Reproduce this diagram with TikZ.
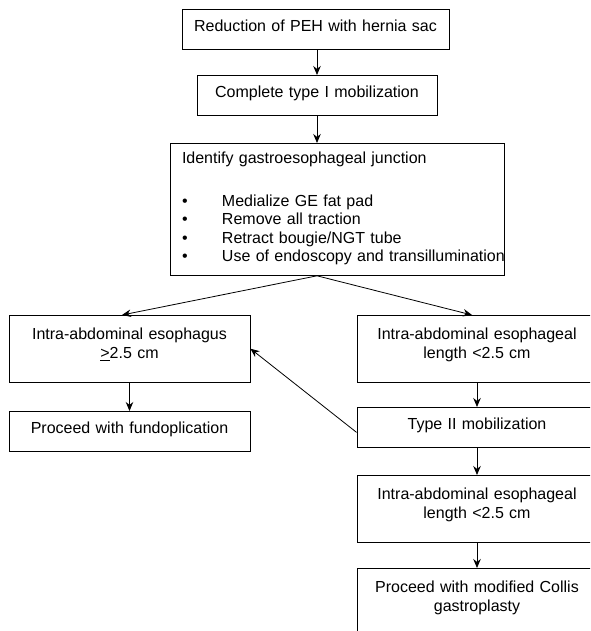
\documentclass[tikz,border=0pt]{standalone}
\usepackage{fontspec}
\setmainfont{Liberation Sans}
\usepackage{tikz}
\usetikzlibrary{arrows.meta, calc}

\begin{document}
\begin{tikzpicture}[x=1pt, y=-1pt,
  stepbox/.style={draw, line width=0.8pt, anchor=north, align=center,
    inner xsep=0pt, inner ysep=0pt, font=\fontsize{16pt}{18.5pt}\selectfont,
    text height=22pt, text depth=18pt},
  tallbox/.style={stepbox, text height=24.5pt, text depth=42pt},
  flow/.style={line width=0.8pt, -{Stealth[length=9pt, width=7.5pt]}}]
  \useasboundingbox (0,0) rectangle (590,631);
  \clip (0,0) rectangle (590,631);

  % Common steps
  \node[stepbox, text width=267pt] (reduce) at (315.5, 9) {Reduction of PEH with hernia sac};
  \node[stepbox, text width=240pt] (typeone) at (317, 75) {Complete type I mobilization};
  \node[stepbox, text width=310pt, align=left, inner xsep=12pt, text height=20pt, text depth=112pt] (identify) at (337, 143) {
    Identify gastroesophageal junction\\[24.5pt]
    \makebox[40pt][l]{\textbullet}Medialize GE fat pad\\
    \makebox[40pt][l]{\textbullet}Remove all traction\\
    \makebox[40pt][l]{\textbullet}Retract bougie/NGT tube\\
    \makebox[40pt][l]{\textbullet}\makebox[270pt][l]{Use of endoscopy and transillumination}
  };

  % Enough length
  \node[tallbox, text width=241pt] (abdA) at (129.5, 315) {Intra-abdominal esophagus\\\underline{>}2.5 cm};
  \node[stepbox, text width=241pt] (fund) at (129.5, 411) {Proceed with fundoplication};

  % Short esophagus
  \node[tallbox, text width=240pt] (abdB) at (477, 315) {Intra-abdominal esophageal\\length <2.5 cm};
  \node[stepbox, text width=240pt] (typetwo) at (477, 407) {Type II mobilization};
  \node[tallbox, text width=240pt] (abdC) at (477, 475) {Intra-abdominal esophageal\\length <2.5 cm};
  \node[tallbox, text width=240pt] (collis) at (477, 568) {Proceed with modified Collis\\gastroplasty};

  % Connectors
  \draw[flow] (typeone.north |- reduce.south) -- (typeone.north);
  \draw[flow] (typeone.south) -- (typeone.south |- identify.north);
  \draw[flow] (typeone.south |- identify.south) -- ($(abdA.north)+(-7.5,0)$);
  \draw[flow] (typeone.south |- identify.south) -- ($(abdB.north)+(-5,0)$);
  \draw[flow] (abdA) -- (fund);
  \draw[flow] (abdB) -- (typetwo);
  \draw[flow] ($(typetwo.west)+(0,5)$) -- (abdA.east);
  \draw[flow] (typetwo) -- (abdC);
  \draw[flow] (abdC) -- (collis);
\end{tikzpicture}
\end{document}
